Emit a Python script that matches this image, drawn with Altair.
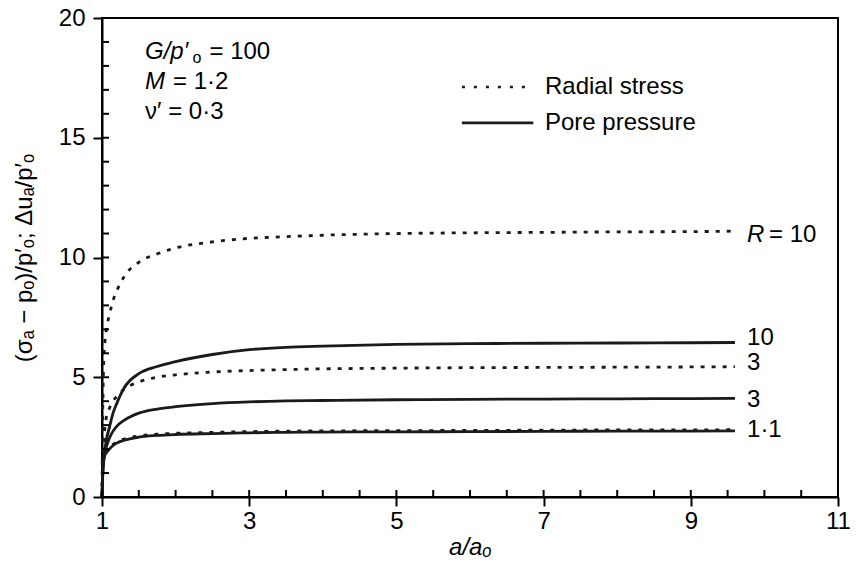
import altair as alt
import pandas as pd

# ---- data ----
x_pts = [1.0, 1.01, 1.02, 1.04, 1.06, 1.1, 1.15, 1.2, 1.3, 1.5, 1.75, 2.0, 2.5,
         3.0, 3.5, 4.0, 5.0, 6.0, 7.0, 8.0, 9.0, 9.6]

radial_R10 = [0, 3.5, 5.3, 6.5, 7.0, 7.6, 8.2, 8.6, 9.2, 9.8, 10.15, 10.4, 10.65,
              10.8, 10.87, 10.93, 11.0, 11.03, 11.05, 11.07, 11.08, 11.1]
pore_R10 = [0, 0.9, 1.4, 2.0, 2.4, 2.9, 3.5, 3.9, 4.55, 5.15, 5.45, 5.65, 5.95,
            6.15, 6.25, 6.3, 6.37, 6.4, 6.42, 6.43, 6.44, 6.45]
radial_R3 = [0, 1.5, 2.2, 2.9, 3.35, 3.7, 4.0, 4.2, 4.5, 4.8, 5.0, 5.1, 5.22,
             5.28, 5.32, 5.35, 5.38, 5.4, 5.41, 5.42, 5.43, 5.44]
pore_R3 = [0, 1.0, 1.4, 1.85, 2.1, 2.45, 2.75, 2.95, 3.2, 3.5, 3.67, 3.77, 3.9,
           3.97, 4.01, 4.03, 4.06, 4.08, 4.09, 4.1, 4.11, 4.12]
radial_R11 = [0, 1.2, 1.6, 1.8, 1.9, 2.05, 2.2, 2.3, 2.42, 2.55, 2.62, 2.66, 2.7,
              2.73, 2.75, 2.76, 2.77, 2.78, 2.79, 2.8, 2.8, 2.81]
pore_R11 = [0, 1.15, 1.55, 1.75, 1.85, 2.0, 2.15, 2.25, 2.37, 2.5, 2.57, 2.61, 2.65,
            2.68, 2.7, 2.71, 2.72, 2.73, 2.74, 2.75, 2.75, 2.76]

x_major = [1, 3, 5, 7, 9, 11]
x_minor = [1.5, 2, 2.5, 3.5, 4, 4.5, 5.5, 6, 6.5, 7.5, 8, 8.5, 9.5, 10, 10.5]
y_major = [0, 5, 10, 15, 20]
y_minor = [1, 2, 3, 4, 6, 7, 8, 9, 11, 12, 13, 14, 16, 17, 18, 19]

# annotation texts (positions in data units)
ital_text = ["G/p′", "M", "R"]
ital_x = [1.584, 1.584, 9.764]
ital_y = [18.58, 17.33, 10.94]

norm_text = ["= 100", "= 1·2", "ν′ = 0·3", "= 10", "10", "3", "3", "1·1",
             "Radial stress", "Pore pressure"]
norm_x = [2.46, 1.965, 1.584, 10.063, 9.764, 9.764, 9.764, 9.764, 7.019, 7.019]
norm_y = [18.58, 17.33, 16.08, 10.94, 6.64, 5.59, 4.05, 2.80, 17.12, 15.62]

sub_text = ["o"]
sub_x = [2.23]
sub_y = [18.32]

leg_x1 = [5.89, 5.89]
leg_x2 = [6.86, 6.86]
leg_y = [17.12, 15.62]
leg_kind = ["radial", "pore"]

INK = "#1a1a1a"
FONT = "Liberation Sans"

def long(kind, curves):
    rows = []
    for name, ys in curves:
        for xv, yv in zip(x_pts, ys):
            rows.append({"x": xv, "y": yv, "curve": name, "kind": kind})
    return pd.DataFrame(rows)

df_rad = long("radial", [("R10", radial_R10), ("R3", radial_R3), ("R1.1", radial_R11)])
df_pore = long("pore", [("R10", pore_R10), ("R3", pore_R3), ("R1.1", pore_R11)])

xs = alt.Scale(domain=[1, 11], nice=False, zero=False)
ys = alt.Scale(domain=[0, 20], nice=False, zero=False)

x_axis = alt.Axis(values=x_major, tickSize=9, tickWidth=2, tickColor="black",
                  domainColor="black", domainWidth=2, grid=False, labelFlush=False,
                  labelFontSize=24, labelFont=FONT, labelColor="black", labelPadding=3,
                  title="a/aₒ", titleFont=FONT, titleFontSize=24, titleFontStyle="italic",
                  titleFontWeight="normal", titleColor="black", titlePadding=2)
y_axis = alt.Axis(values=y_major, tickSize=9, tickWidth=2, tickColor="black",
                  domainColor="black", domainWidth=2, grid=False, labelFlush=False,
                  labelFontSize=24, labelFont=FONT, labelColor="black", labelPadding=8,
                  title="(σₐ − pₒ)/p′ₒ; Δuₐ/p′ₒ", titleFont=FONT, titleFontSize=24,
                  titleFontWeight="normal", titleColor="black", titlePadding=22)

def X(field):
    return alt.X(field, scale=xs, axis=x_axis)

def Y(field):
    return alt.Y(field, scale=ys, axis=y_axis)

radial = alt.Chart(df_rad).mark_line(strokeDash=[4, 7], strokeWidth=2.8, color=INK,
                                     interpolate="monotone").encode(
    x=X("x:Q"), y=Y("y:Q"), detail="curve:N", order="x:Q")

pore = alt.Chart(df_pore).mark_line(strokeWidth=2.8, color=INK, interpolate="monotone").encode(
    x=X("x:Q"), y=Y("y:Q"), detail="curve:N", order="x:Q")

# inside ticks
xt = pd.DataFrame({"x": x_major + x_minor})
yt = pd.DataFrame({"y": y_major + y_minor})
H = 479
xticks = alt.Chart(xt).mark_rule(color="black", strokeWidth=2).encode(
    x=X("x:Q"), y=alt.value(H), y2=alt.value(H - 7))
yticks = alt.Chart(yt).mark_rule(color="black", strokeWidth=2).encode(
    y=Y("y:Q"), x=alt.value(0), x2=alt.value(7))

# legend
leg = pd.DataFrame({"x": leg_x1, "x2": leg_x2, "y": leg_y, "kind": leg_kind})
leg_rad = alt.Chart(leg[leg.kind == "radial"]).mark_rule(strokeDash=[3, 9], strokeWidth=2.6, color=INK).encode(
    x=X("x:Q"), x2="x2:Q", y=Y("y:Q"))
leg_pore = alt.Chart(leg[leg.kind == "pore"]).mark_rule(strokeWidth=2.8, color=INK).encode(
    x=X("x:Q"), x2="x2:Q", y=Y("y:Q"))

def texts(txt, xv, yv, style, size):
    d = pd.DataFrame({"t": txt, "x": xv, "y": yv})
    return alt.Chart(d).mark_text(align="left", baseline="middle", font=FONT, fontSize=size,
                                  fontStyle=style, color="black").encode(
        x=X("x:Q"), y=Y("y:Q"), text="t:N")

t_ital = texts(ital_text, ital_x, ital_y, "italic", 24)
t_norm = texts(norm_text, norm_x, norm_y, "normal", 24)
t_sub = texts(sub_text, sub_x, sub_y, "normal", 16)

chart = alt.layer(radial, pore, xticks, yticks, leg_rad, leg_pore, t_ital, t_norm, t_sub).properties(
    width=736, height=479,
    autosize=alt.AutoSizeParams(type="none"),
    padding={"left": 102, "top": 18, "right": 19, "bottom": 74},
    background="white",
).configure_view(stroke="black", strokeWidth=2)

chart.save("out.html", embed_options={"renderer": "svg", "actions": False})
